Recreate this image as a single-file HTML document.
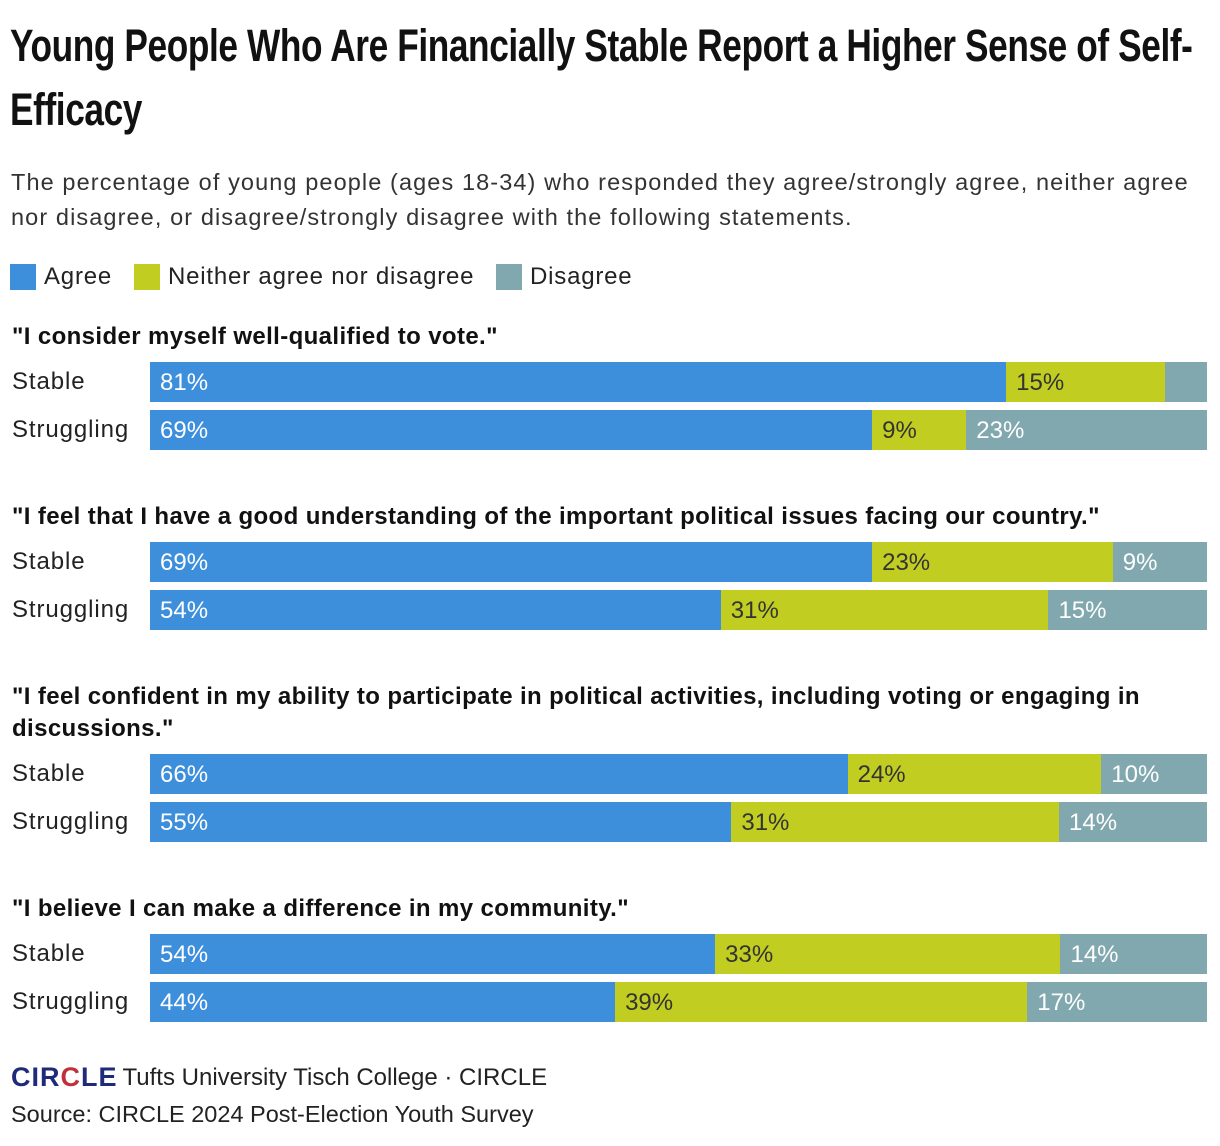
<!DOCTYPE html>
<html><head><meta charset="utf-8"><style>
body{margin:0;background:#fff;width:1220px;height:1146px;overflow:hidden;font-family:"Liberation Sans",sans-serif;color:#111}
#title{position:absolute;left:10px;top:14px;white-space:nowrap;font-weight:bold;font-size:45px;line-height:64px;letter-spacing:-0.5px;transform:scaleX(0.783);transform-origin:0 0}
#sub{position:absolute;left:11px;top:165px;font-size:23.5px;line-height:35px;color:#333;white-space:nowrap;letter-spacing:1.1px}
.leg{position:absolute;top:263px;font-size:24px;color:#222;display:flex;align-items:center;letter-spacing:0.8px}
.sw{width:26px;height:26px;margin-right:8px}
.q{position:absolute;left:12px;font-size:24px;font-weight:bold;line-height:32px;color:#111;white-space:nowrap;letter-spacing:0.38px}
.rl{position:absolute;left:12px;font-size:24px;color:#222;letter-spacing:0.9px}
.foot{position:absolute;left:11px;font-size:23.5px;color:#222}
</style></head><body>
<div id="title">Young People Who Are Financially Stable Report a Higher Sense of Self-<br>Efficacy</div>
<div id="sub">The percentage of young people (ages 18-34) who responded they agree/strongly agree, neither agree<br>nor disagree, or disagree/strongly disagree with the following statements.</div>
<div class="leg" style="left:10px"><div class="sw" style="background:#3d8fdc"></div>Agree</div>
<div class="leg" style="left:134px"><div class="sw" style="background:#c2cd22"></div>Neither agree nor disagree</div>
<div class="leg" style="left:496px"><div class="sw" style="background:#80a8ae"></div>Disagree</div>
<div id="chart"></div>
<div class="foot" style="top:1062px;display:flex;align-items:center;font-size:24px"><span style="font-weight:900;color:#1f2a7a;font-size:27px;letter-spacing:1px;margin-right:5px">CIR<span style="color:#c0303a">C</span>LE</span>Tufts University Tisch College · CIRCLE</div>
<div class="foot" style="top:1101px">Source: CIRCLE 2024 Post-Election Youth Survey</div>
<script>
const questions=['"I consider myself well-qualified to vote."','"I feel that I have a good understanding of the important political issues facing our country."','"I feel confident in my ability to participate in political activities, including voting or engaging in<br>discussions."','"I believe I can make a difference in my community."'];
const groups=['Stable','Struggling'];
const agree=[[81,69],[69,54],[66,55],[54,44]];
const neither=[[15,9],[23,31],[24,31],[33,39]];
const disagree=[[4,23],[9,15],[10,14],[14,17]];
const showDisLabel=[[false,true],[true,true],[true,true],[true,true]];
const qTop=[321,501,681,893];
const barTop=[[362,410],[542,590],[754,802],[934,982]];
const X0=150,W=1057;
const colors=['#3d8fdc','#c2cd22','#80a8ae'];
const txt=['#fff','#333','#fff'];
const c=document.getElementById('chart');
questions.forEach((q,i)=>{
  const d=document.createElement('div');d.className='q';d.style.top=qTop[i]+'px';d.innerHTML=q;
  
  
  c.appendChild(d);
  groups.forEach((g,j)=>{
    const y=barTop[i][j];
    const l=document.createElement('div');l.className='rl';l.style.top=(y+6)+'px';l.textContent=g;
    
    
    c.appendChild(l);
    const vals=[agree[i][j],neither[i][j],disagree[i][j]];
    const sum=vals[0]+vals[1]+vals[2];
    let x=X0;
    vals.forEach((v,k)=>{
      const w=v/sum*W;
      const b=document.createElement('div');
      b.style.cssText=`position:absolute;left:${x}px;top:${y}px;width:${w}px;height:40px;background:${colors[k]};color:${txt[k]};font-size:24px;line-height:42px;box-sizing:border-box;padding-left:10px;white-space:nowrap;overflow:hidden`;
      if(k<2||showDisLabel[i][j])b.textContent=v+'%';
      
      
      c.appendChild(b);x+=w;
    });
  });
});
</script>
</body></html>
